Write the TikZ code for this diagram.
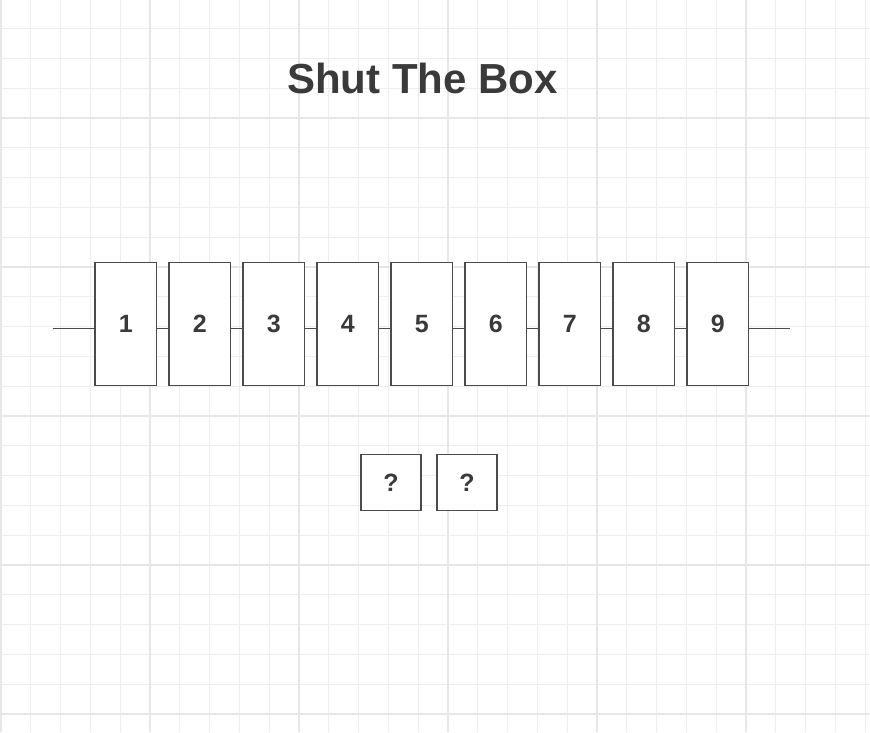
\documentclass[tikz,border=0pt]{standalone}
\usepackage{fontspec}
\setmainfont{Liberation Sans}
\usetikzlibrary{positioning}

\begin{document}
\begin{tikzpicture}[x=1pt, y=-1pt,
  tile/.style={rectangle, draw=boxline, fill=white, line width=1.2pt, minimum width=61.5pt, minimum height=123.5pt, inner sep=0pt, outer sep=0pt, text=labeltext, font=\fontsize{25}{30}\selectfont\bfseries},
  die/.style={rectangle, draw=boxline, fill=white, line width=1.2pt, minimum width=60pt, minimum height=56pt, inner sep=0pt, outer sep=0pt, text=labeltext, font=\fontsize{25}{30}\selectfont\bfseries},
  bar/.style={draw=boxline, line width=1.2pt}]
  % Colors
  \definecolor{boxline}{RGB}{75,75,75}       % box borders
  \definecolor{labeltext}{RGB}{58,58,58}     % text
  \definecolor{gridminor}{RGB}{237,237,237}  % thin grid
  \definecolor{gridmajor}{RGB}{231,231,231}  % thick grid

  \useasboundingbox (0,0) rectangle (870,732);
  \fill[white] (0,0) rectangle (870,732);

  % Background grid
  \foreach \k in {0,...,29} {
    \draw[gridminor, line width=1pt] (1+29.8*\k,0) -- (1+29.8*\k,732);
  }
  \foreach \k in {0,...,25} {
    \draw[gridminor, line width=1pt] (0,-31+29.8*\k) -- (870,-31+29.8*\k);
  }
  \foreach \k in {0,...,5} {
    \draw[gridmajor, line width=1.1pt] (1+149*\k,0) -- (1+149*\k,732);
    \draw[gridmajor, line width=1.1pt] (0,-31+149*\k) -- (870,-31+149*\k);
  }

  % Title
  \node[anchor=base, text=labeltext, font=\fontsize{42}{48}\selectfont\bfseries] (title) at (422.5,93.3) {Shut The Box};

  % Tiles 1 to 9
  \node[tile] (t1) at (125.8,324) {1};
  \node[tile, right=12.5pt of t1] (t2) {2};
  \node[tile, right=12.5pt of t2] (t3) {3};
  \node[tile, right=12.5pt of t3] (t4) {4};
  \node[tile, right=12.5pt of t4] (t5) {5};
  \node[tile, right=12.5pt of t5] (t6) {6};
  \node[tile, right=12.5pt of t6] (t7) {7};
  \node[tile, right=12.5pt of t7] (t8) {8};
  \node[tile, right=12.5pt of t8] (t9) {9};

  % Rail ends
  \coordinate (lend) at (53,328.7);
  \coordinate (rend) at (790,328.7);

  % Rail through the tiles
  \draw[bar] (lend) -- ([yshift=-4.7pt]t1.west);
  \draw[bar] ([yshift=-4.7pt]t1.east) -- ([yshift=-4.7pt]t2.west);
  \draw[bar] ([yshift=-4.7pt]t2.east) -- ([yshift=-4.7pt]t3.west);
  \draw[bar] ([yshift=-4.7pt]t3.east) -- ([yshift=-4.7pt]t4.west);
  \draw[bar] ([yshift=-4.7pt]t4.east) -- ([yshift=-4.7pt]t5.west);
  \draw[bar] ([yshift=-4.7pt]t5.east) -- ([yshift=-4.7pt]t6.west);
  \draw[bar] ([yshift=-4.7pt]t6.east) -- ([yshift=-4.7pt]t7.west);
  \draw[bar] ([yshift=-4.7pt]t7.east) -- ([yshift=-4.7pt]t8.west);
  \draw[bar] ([yshift=-4.7pt]t8.east) -- ([yshift=-4.7pt]t9.west);
  \draw[bar] ([yshift=-4.7pt]t9.east) -- (rend);

  % Dice
  \node[die] (d1) at (391,482.3) {?};
  \node[die, right=16pt of d1] (d2) {?};
\end{tikzpicture}
\end{document}
